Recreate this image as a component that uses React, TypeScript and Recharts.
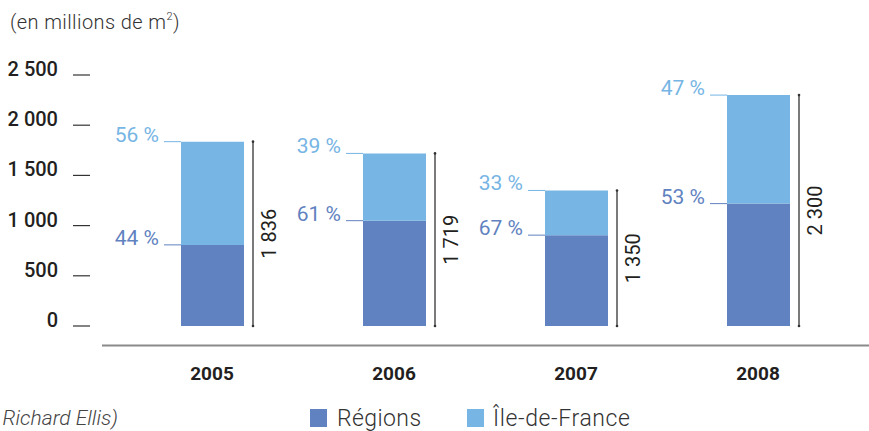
import React from 'react';
import { BarChart, Bar, XAxis, YAxis, LabelList } from 'recharts';

const years = ['2005', '2006', '2007', '2008'];
const regions = [808, 1049, 905, 1219];
const idf = [1028, 670, 445, 1081];
const totals = [1836, 1719, 1350, 2300];
const regionsPct = [44, 61, 67, 53];
const idfPct = [56, 39, 33, 47];
const yTicks = [0, 500, 1000, 1500, 2000, 2500];

const data = years.map((y, i) => ({ year: y, regions: regions[i], idf: idf[i] }));

const W = 869;
const H = 431;
const MARGIN_TOP = 75;
const PLOT_H = 251;
const PLOT_BOTTOM = MARGIN_TOP + PLOT_H;
const X_AXIS_H = 30;
const C_REG = '#6182c0';
const C_IDF = '#76b5e4';
const TXT = '#231f20';
const FONT = 'Roboto, "DejaVu Sans", sans-serif';

const fmt = (n: number) =>
  n >= 1000 ? `${Math.floor(n / 1000)} ${String(n % 1000).padStart(3, '0')}` : String(n);

const YTick = (props: any) => {
  const { y, payload } = props;
  return (
    <g>
      <text x={58} y={y - 6} textAnchor="end" dominantBaseline="central" fontSize={20} fontWeight={500} fill={TXT} fontFamily={FONT}>
        {fmt(payload.value)}
      </text>
      <line x1={73} x2={90} y1={y} y2={y} stroke="#333" strokeWidth={1.2} />
    </g>
  );
};

const XTick = (props: any) => {
  const { x, payload } = props;
  return (
    <text x={x} y={PLOT_BOTTOM + 47} textAnchor="middle" dominantBaseline="central" fontSize={19} fontWeight={700} fill={TXT} fontFamily={FONT}>
      {payload.value}
    </text>
  );
};

const getBox = (p: any) => {
  const vb = p.viewBox || {};
  return {
    x: Number(p.x ?? vb.x),
    y: Number(p.y ?? vb.y),
    width: Number(p.width ?? vb.width),
    height: Number(p.height ?? vb.height),
  };
};

const makePctLabel = (pcts: number[], color: string) => (p: any) => {
  const { x, y } = getBox(p);
  const i = p.index;
  return (
    <g>
      <line x1={x - 17} x2={x} y1={y} y2={y} stroke={color} strokeWidth={1} />
      <text x={x - 22} y={y - 7} textAnchor="end" dominantBaseline="central" fontSize={21} fill={color} fontFamily={FONT}>
        {`${pcts[i]} %`}
      </text>
    </g>
  );
};

const TotalLabel = (p: any) => {
  const { x, y, width } = getBox(p);
  const i = p.index;
  const lx = x + width + 9;
  const mid = (y + PLOT_BOTTOM) / 2;
  const tx = lx + 16;
  return (
    <g>
      <line x1={lx} x2={lx} y1={y} y2={PLOT_BOTTOM} stroke="#333" strokeWidth={1.3} />
      <circle cx={lx} cy={y} r={1.3} fill="#333" />
      <circle cx={lx} cy={PLOT_BOTTOM} r={1.3} fill="#333" />
      <text x={tx} y={mid} textAnchor="middle" dominantBaseline="central" fontSize={20} fill={TXT} fontFamily={FONT} transform={`rotate(-90 ${tx} ${mid})`}>
        {fmt(totals[i])}
      </text>
    </g>
  );
};

export default function App() {
  return (
    <div style={{ position: 'absolute', left: 0, top: 0, width: W, height: H, background: '#fff' }}>
      <BarChart
        width={W}
        height={H}
        data={data}
        margin={{ top: MARGIN_TOP, right: 20, left: 0, bottom: H - PLOT_BOTTOM - X_AXIS_H }}
      >
        <XAxis dataKey="year" axisLine={false} tickLine={false} height={X_AXIS_H} tick={<XTick />} interval={0} />
        <YAxis
          width={121}
          domain={[0, 2500]}
          ticks={yTicks}
          axisLine={false}
          tickLine={false}
          tick={<YTick />}
          interval={0}
        />
        <Bar dataKey="regions" stackId="a" fill={C_REG} barSize={63} isAnimationActive={false}>
          <LabelList dataKey="regions" content={makePctLabel(regionsPct, C_REG)} />
        </Bar>
        <Bar dataKey="idf" stackId="a" fill={C_IDF} barSize={63} isAnimationActive={false}>
          <LabelList dataKey="idf" content={makePctLabel(idfPct, C_IDF)} />
          <LabelList dataKey="idf" content={TotalLabel} />
        </Bar>
      </BarChart>
      <svg width={W} height={H} style={{ position: 'absolute', left: 0, top: 0, pointerEvents: 'none' }}>
        <text x={10} y={22} dominantBaseline="central" fontSize={20} fontWeight={300} fill="#333" fontFamily={FONT} letterSpacing={0.4}>
          (en millions de m<tspan dy={-6} fontSize={11}>2</tspan><tspan dy={6}>)</tspan>
        </text>
        <line x1={102} x2={W} y1={345.5} y2={345.5} stroke="#8a8a8a" strokeWidth={2} />
        <text x={118} y={418} textAnchor="end" dominantBaseline="central" fontSize={21} fontStyle="italic" fontWeight={300} fill="#444" fontFamily={FONT}>
          (Source : CB Richard Ellis)
        </text>
        <rect x={310} y={409} width={17} height={18} fill={C_REG} />
        <text x={337} y={418} dominantBaseline="central" fontSize={23} fontWeight={300} fill="#333" fontFamily={FONT} letterSpacing={0.4}>
          Régions
        </text>
        <rect x={467} y={409} width={17} height={18} fill={C_IDF} />
        <text x={493} y={418} dominantBaseline="central" fontSize={23} fontWeight={300} fill="#333" fontFamily={FONT} letterSpacing={0.6}>
          Île-de-France
        </text>
      </svg>
    </div>
  );
}
